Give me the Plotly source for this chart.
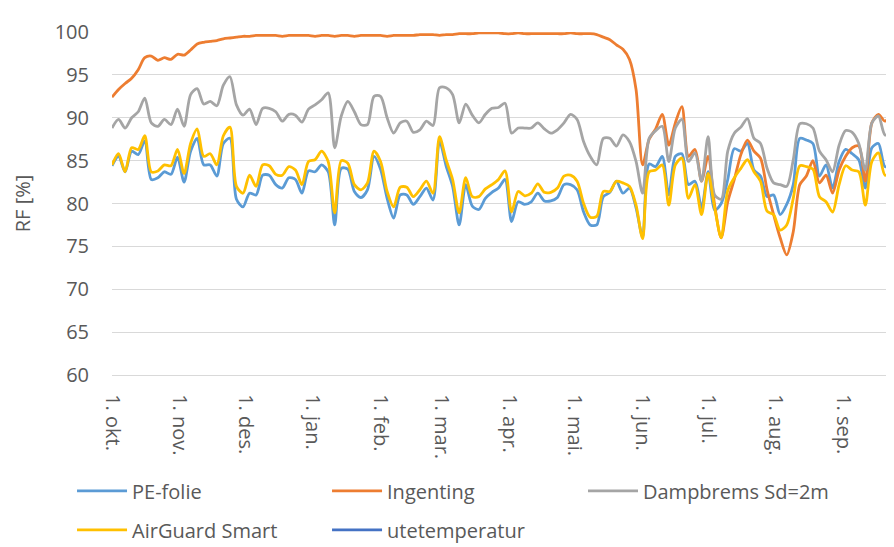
import datetime as dt
import plotly.graph_objects as go

START = dt.date(2014, 10, 1)
DAY_OFFSETS = list(range(0, 361, 3)) + [362]

pe_folie = [
    84.4, 85.5, 83.7, 86.1, 85.7, 87.3, 82.8, 83.0, 83.7, 83.4, 85.4, 82.5, 86.1, 87.6, 84.5, 84.5, 83.2, 87.0,
    87.6, 80.5, 79.6, 81.2, 81.0, 83.3, 83.3, 82.2, 81.8, 83.0, 82.8, 81.2, 83.8, 83.7, 84.5, 83.7, 77.5, 84.1,
    84.0, 81.4, 80.7, 81.6, 85.5, 84.0, 80.6, 78.3, 81.0, 81.0, 79.9, 80.8, 81.8, 80.4, 87.3, 84.4, 82.0,
    77.5, 82.2, 79.7, 79.3, 80.6, 81.3, 81.8, 82.8, 77.9, 80.2, 79.9, 80.2, 81.2, 80.3, 80.3, 80.7, 82.2, 82.2,
    81.6, 79.0, 77.5, 77.5, 80.8, 81.3, 82.6, 81.2, 81.8, 79.5, 76.1, 84.6, 84.3, 85.5, 81.0, 85.5, 85.8,
    82.2, 82.6, 79.5, 83.7, 79.2, 80.0, 82.8, 86.4, 86.1, 87.0, 83.9, 83.2, 80.8, 81.0, 78.7, 79.9, 82.2, 87.6,
    87.4, 87.0, 83.2, 84.5, 81.8, 84.9, 86.3, 85.8, 85.1, 81.8, 86.5, 87.0, 84.3, 84.5, 84.9,
    87.0,
]

ingenting = [
    92.4, 93.3, 94.0, 94.6, 95.6, 97.0, 97.2, 96.7, 97.0, 96.8, 97.4, 97.3, 97.9, 98.6, 98.8, 98.9, 99.0, 99.2,
    99.3, 99.4, 99.5, 99.5, 99.6, 99.6, 99.6, 99.6, 99.5, 99.6, 99.6, 99.6, 99.6, 99.5, 99.6, 99.6, 99.5, 99.6,
    99.6, 99.5, 99.6, 99.6, 99.6, 99.6, 99.5, 99.6, 99.6, 99.6, 99.6, 99.7, 99.7, 99.7, 99.6, 99.7, 99.7,
    99.8, 99.8, 99.8, 99.9, 99.9, 99.9, 99.9, 99.8, 99.8, 99.9, 99.8, 99.8, 99.8, 99.8, 99.8, 99.8, 99.8, 99.9,
    99.8, 99.8, 99.8, 99.7, 99.4, 99.1, 98.5, 98.0, 96.8, 93.3, 84.5, 87.5, 88.7, 90.4, 86.8, 89.4, 91.3,
    85.5, 86.3, 82.6, 85.5, 79.8, 76.0, 80.2, 82.8, 85.7, 87.4, 86.1, 85.3, 81.6, 78.7, 76.0, 74.0, 76.7, 82.2,
    83.2, 85.0, 82.4, 83.3, 81.2, 83.9, 85.5, 86.5, 86.7, 82.6, 89.4, 90.4, 89.6, 90.5, 91.7,
    92.5,
]

dampbrems = [
    88.8, 89.8, 88.8, 90.0, 90.7, 92.3, 89.4, 89.0, 89.8, 89.2, 91.0, 89.0, 92.7, 93.4, 91.6, 91.9, 91.4, 93.8,
    94.8, 91.5, 90.3, 91.0, 89.2, 91.1, 91.1, 90.7, 89.6, 90.4, 90.3, 89.5, 91.0, 91.5, 92.1, 92.9, 86.5, 90.2,
    91.9, 90.7, 89.2, 89.2, 92.5, 92.5, 90.0, 88.2, 89.4, 89.6, 88.3, 88.6, 89.6, 89.1, 93.5, 93.5, 92.7,
    89.4, 91.6, 90.3, 89.4, 90.4, 91.1, 91.2, 91.7, 88.2, 88.8, 88.8, 88.8, 89.4, 88.7, 88.2, 88.6, 89.4, 90.4,
    89.8, 87.2, 85.5, 84.5, 87.6, 87.6, 86.7, 88.0, 87.2, 84.9, 81.2, 87.6, 88.5, 89.0, 84.9, 88.8, 89.8,
    84.9, 85.9, 82.6, 87.8, 81.0, 80.5, 86.1, 88.2, 88.9, 89.9, 87.6, 87.0, 84.1, 82.4, 82.2, 82.0, 85.1, 89.3,
    89.3, 88.8, 86.1, 85.1, 83.7, 86.8, 88.5, 88.3, 87.0, 83.9, 89.4, 90.2, 88.0, 88.2, 88.6,
    90.4,
]

airguard = [
    84.5, 85.8, 83.7, 86.5, 86.3, 87.9, 83.7, 83.8, 84.5, 84.4, 86.3, 83.5, 87.0, 88.7, 85.5, 85.8, 84.5, 87.9,
    88.9, 82.0, 81.2, 83.3, 82.0, 84.5, 84.4, 83.4, 83.3, 84.3, 83.9, 82.2, 84.9, 85.1, 86.1, 84.9, 78.9, 85.0,
    84.7, 82.2, 81.6, 82.4, 86.1, 84.9, 81.4, 79.6, 81.9, 81.9, 80.8, 81.6, 82.6, 81.2, 87.8, 85.1, 82.8,
    78.9, 83.0, 80.8, 80.8, 81.7, 82.2, 82.8, 83.8, 79.0, 81.4, 80.9, 81.2, 82.3, 81.3, 81.3, 81.8, 83.2, 83.3,
    82.6, 80.0, 78.4, 78.5, 81.4, 81.4, 82.6, 82.4, 82.0, 79.8, 75.9, 83.7, 83.9, 84.5, 79.8, 84.5, 85.3,
    80.6, 82.2, 78.7, 83.5, 79.5, 76.0, 81.5, 83.0, 84.1, 85.1, 83.7, 82.6, 79.1, 78.7, 76.9, 77.5, 80.6, 84.4,
    84.3, 84.0, 80.8, 80.2, 79.0, 82.2, 84.4, 83.9, 83.7, 79.8, 84.9, 85.9, 83.3, 83.7, 84.1,
    86.5,
]

MONTH_LABELS = ["1. okt.", "1. nov.", "1. des.", "1. jan.", "1. feb.", "1. mar.",
                "1. apr.", "1. mai.", "1. jun.", "1. jul.", "1. aug.", "1. sep."]
MONTH_STARTS = [dt.date(2014, 10, 1), dt.date(2014, 11, 1), dt.date(2014, 12, 1),
                dt.date(2015, 1, 1), dt.date(2015, 2, 1), dt.date(2015, 3, 1),
                dt.date(2015, 4, 1), dt.date(2015, 5, 1), dt.date(2015, 6, 1),
                dt.date(2015, 7, 1), dt.date(2015, 8, 1), dt.date(2015, 9, 1)]
Y_TICKS = [60, 65, 70, 75, 80, 85, 90, 95, 100]

dates = [START + dt.timedelta(days=d) for d in DAY_OFFSETS]

FONT = "Open Sans, Lato, sans-serif"
TXT = "#595959"
LW = 2.8

fig = go.Figure()
series = [
    ("PE-folie", pe_folie, "#5B9BD5", "legend"),
    ("Ingenting", ingenting, "#ED7D31", "legend2"),
    ("Dampbrems Sd=2m", dampbrems, "#A5A5A5", "legend3"),
    ("AirGuard Smart", airguard, "#FFC000", "legend"),
]
for name, vals, col, lg in series:
    fig.add_trace(go.Scatter(
        x=dates, y=vals, name=name, mode="lines",
        line=dict(color=col, width=LW, shape="spline", smoothing=0.8),
        legend=lg, legendgroup=name,
    ))
fig.add_trace(go.Scatter(
    x=[dates[0]], y=[None], name="utetemperatur", mode="lines",
    line=dict(color="#4472C4", width=LW), legend="legend2", legendgroup="ute",
))

x_end = dt.datetime(2014, 10, 1) + dt.timedelta(days=361.8)

legend_common = dict(
    orientation="v", xanchor="left", yanchor="middle",
    itemwidth=50, traceorder="grouped", tracegroupgap=10,
    font=dict(family=FONT, size=20, color=TXT), bgcolor="rgba(0,0,0,0)",
)

fig.update_layout(
    width=894, height=547,
    margin=dict(l=104, r=0, t=24, b=180),
    paper_bgcolor="white", plot_bgcolor="white",
    font=dict(family=FONT, size=20, color=TXT),
    xaxis=dict(
        type="date", range=[dt.datetime(2014, 10, 1), x_end],
        tickmode="array", tickvals=MONTH_STARTS, ticktext=MONTH_LABELS,
        tickangle=90, showgrid=False, showline=True, linecolor="#D9D9D9",
        linewidth=1.3, ticks="", ticklabelstandoff=14,
        tickfont=dict(family=FONT, size=20, color=TXT),
    ),
    yaxis=dict(
        range=[60, 100], tickmode="array", tickvals=Y_TICKS,
        showgrid=True, gridcolor="#D9D9D9", gridwidth=1.3,
        zeroline=False, ticks="", ticklabelstandoff=22,
        tickfont=dict(family=FONT, size=20, color=TXT),
        title=dict(text="RF [%]", font=dict(family=FONT, size=20, color=TXT), standoff=18),
    ),
    legend=dict(x=-0.0506, y=-0.3945, **legend_common),
    legend2=dict(x=0.2722, y=-0.3945, **legend_common),
    legend3=dict(x=0.5962, y=-0.3376, **legend_common),
    showlegend=True,
)

fig.write_html("out.html")
